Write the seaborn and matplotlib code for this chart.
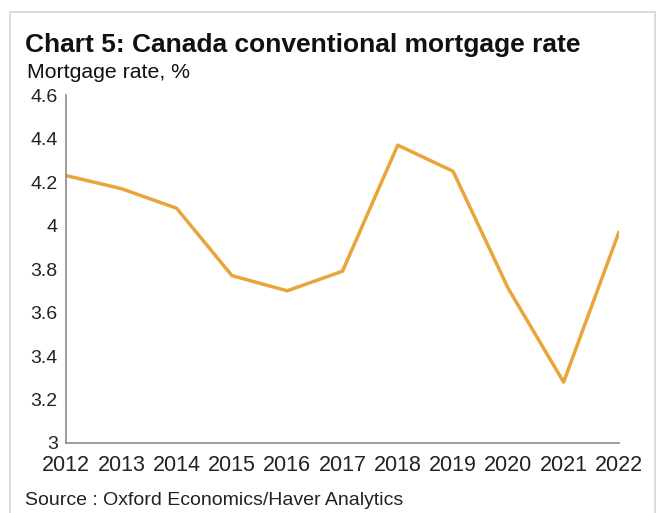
import matplotlib
matplotlib.use("Agg")
import matplotlib.pyplot as plt
from matplotlib.patches import Rectangle
import seaborn as sns
import pandas as pd

years = [2012, 2013, 2014, 2015, 2016, 2017, 2018, 2019, 2020, 2021, 2022]
rates = [4.23, 4.17, 4.08, 3.77, 3.70, 3.79, 4.37, 4.25, 3.71, 3.28, 3.97]
y_ticks = [3, 3.2, 3.4, 3.6, 3.8, 4, 4.2, 4.4, 4.6]
y_tick_labels = ["3", "3.2", "3.4", "3.6", "3.8", "4", "4.2", "4.4", "4.6"]

df = pd.DataFrame({"year": years, "rate": rates})

sns.set_theme(style="white")
plt.rcParams["font.family"] = ["Liberation Sans", "DejaVu Sans"]

fig = plt.figure(figsize=(6.57, 5.13), dpi=100)
ax = fig.add_axes([0.1005, 0.1365, 0.8415, 0.678])

sns.lineplot(data=df, x="year", y="rate", ax=ax, color="#E9A53A", linewidth=2.5)

ax.set_xlim(2012, 2022)
ax.set_ylim(3, 4.6)
ax.set_xticks(years)
ax.set_xticklabels([str(y) for y in years], fontsize=15.5, color="#222222")
ax.set_yticks(y_ticks)
ax.set_yticklabels(y_tick_labels, fontsize=14, color="#222222")
ax.set_xlabel("")
ax.set_ylabel("")

for side in ["top", "right"]:
    ax.spines[side].set_visible(False)
for side in ["left", "bottom"]:
    ax.spines[side].set_color("#8a8a8a")
    ax.spines[side].set_linewidth(1.2)
ax.tick_params(axis="both", which="major", direction="out", length=4,
               width=1.0, color="#8a8a8a")
ax.tick_params(axis="y", pad=2)
ax.tick_params(axis="x", pad=5)

# outer frame around the whole chart
fig.patches.append(Rectangle((10 / 657, -0.05), 645 / 657, 1 - 12 / 513 + 0.05,
                             transform=fig.transFigure, fill=False,
                             edgecolor="#d4d4d4", linewidth=1.2))

fig.text(25 / 657, 1 - 52 / 513, "Chart 5: Canada conventional mortgage rate",
         fontsize=19, fontweight="bold", color="#111111", va="baseline", ha="left")
fig.text(27 / 657, 1 - 78 / 513, "Mortgage rate, %",
         fontsize=15.3, color="#111111", va="baseline", ha="left")
fig.text(25 / 657, 1 - 505 / 513, "Source : Oxford Economics/Haver Analytics",
         fontsize=14, color="#222222", va="baseline", ha="left")

fig.savefig("out.png", dpi=100, facecolor="white")
